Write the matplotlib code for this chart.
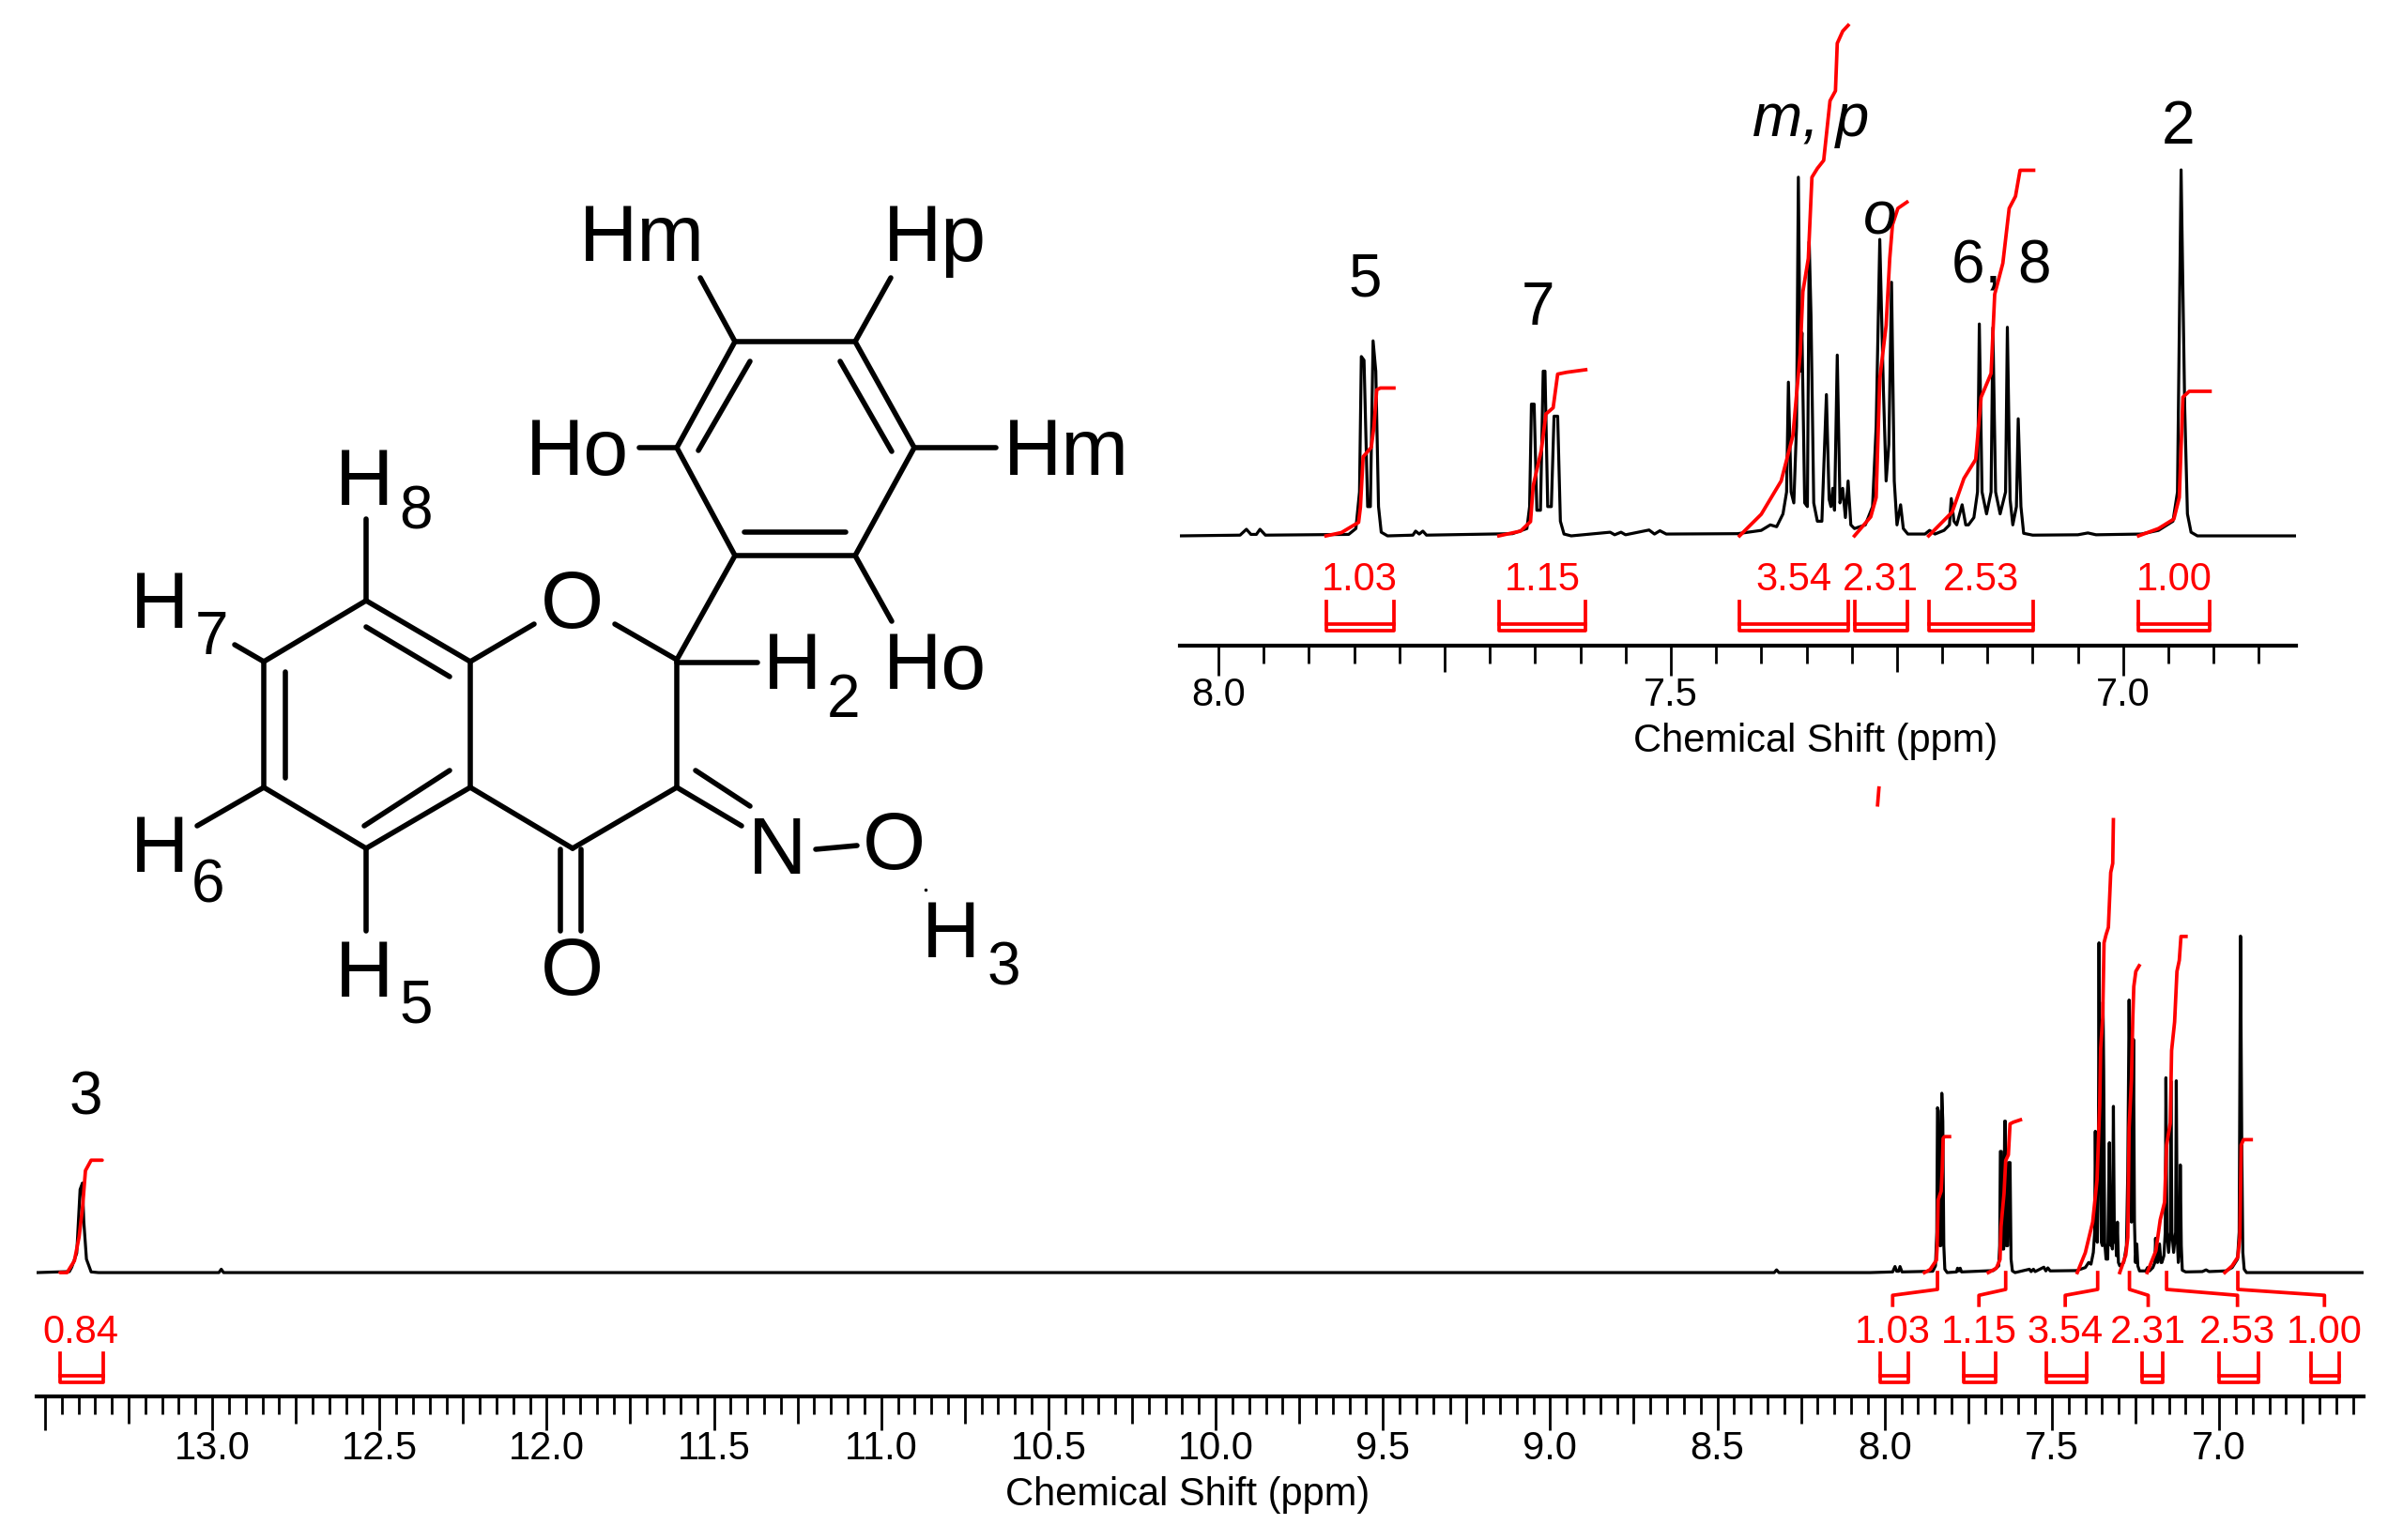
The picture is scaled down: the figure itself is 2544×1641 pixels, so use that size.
import matplotlib
matplotlib.use('Agg')
import matplotlib.pyplot as plt

plt.rcParams['font.family'] = ['Liberation Sans', 'DejaVu Sans']

# Spectrum, aromatic region (tallest peak = 100)
spec_ppm = [8.043, 7.976, 7.969, 7.964, 7.958, 7.954, 7.948,
            7.856, 7.848, 7.844, 7.842, 7.839, 7.835, 7.832, 7.829, 7.826, 7.823, 7.820, 7.813,
            7.785, 7.782, 7.778, 7.774, 7.770,
            7.675, 7.659, 7.656, 7.654, 7.651, 7.648, 7.644, 7.641, 7.639, 7.636, 7.632, 7.629, 7.625, 7.622, 7.618, 7.610,
            7.567, 7.562, 7.555, 7.550, 7.524, 7.518, 7.512, 7.505,
            7.426, 7.400, 7.390, 7.383, 7.376, 7.372, 7.370, 7.367, 7.364, 7.361, 7.359, 7.357, 7.355, 7.352, 7.349,
            7.347, 7.345, 7.342, 7.338, 7.333, 7.328, 7.325, 7.323, 7.321, 7.319, 7.316, 7.313, 7.310, 7.307, 7.304, 7.301, 7.297,
            7.285, 7.277, 7.273, 7.269, 7.265, 7.262, 7.259, 7.256, 7.253, 7.250, 7.246, 7.243, 7.238,
            7.219, 7.214, 7.208, 7.198, 7.192, 7.190, 7.187, 7.184, 7.178, 7.174, 7.171, 7.165, 7.161, 7.159, 7.156,
            7.151, 7.146, 7.144, 7.141, 7.136, 7.130, 7.128, 7.125, 7.122, 7.118, 7.116, 7.113, 7.110, 7.100,
            7.050, 7.039, 7.030, 6.980, 6.961, 6.945, 6.940, 6.936, 6.932, 6.929, 6.925, 6.918, 6.809]
spec_int = [0, 0.2, 1.8, 0.4, 0.4, 1.8, 0.2,
            0.4, 2, 12, 49, 48, 8, 8, 53.3, 45, 8, 1, 0,
            0.2, 1.3, 0.5, 1.3, 0.2,
            0.6, 2, 8, 36, 36, 7, 7, 45, 45, 8, 8, 32.7, 32.7, 4, 0.5, 0,
            1, 0.3, 1, 0.3, 1.6, 0.5, 1.4, 0.5,
            0.6, 1.5, 3, 2.5, 6, 12, 42, 12, 9, 30, 98, 45, 55.5, 9, 8,
            80.4, 60, 9, 4, 4, 38.6, 10, 8, 13, 7, 49.4, 9, 13, 5, 15, 3, 2,
            3, 8, 30, 81, 40, 15, 25, 69.3, 15, 3, 8.5, 2, 0.5,
            0.5, 1.5, 0.5, 1.5, 3, 10.2, 4, 3, 8.5, 3, 3, 5, 12, 57.9, 12,
            6, 12, 56.9, 12, 6, 12, 57, 10, 3, 8, 32, 8, 0.7, 0.2,
            0.3, 0.8, 0.3, 0.5, 1.5, 4, 12, 100, 35, 6, 1, 0, 0]

# Rest of the full spectrum
far_ppm = [13.525, 13.427, 13.420, 13.405, 13.395, 13.388, 13.384, 13.376, 13.362, 13.340,
           12.980, 12.973, 12.966, 8.330, 8.323, 8.316, 8.100]
far_int = [0, 0.3, 1.6, 5.8, 24.7, 26.6, 15.3, 4, 0.2, 0, 0, 1, 0, 0, 0.8, 0, 0]
end_ppm = [6.568]
end_int = [0]

# Integral curves
int5_ppm = [7.881, 7.864, 7.845, 7.843, 7.840, 7.831, 7.828, 7.825, 7.821, 7.806]
int5_y = [0, 0.9, 3.7, 7.8, 21.6, 24.2, 30, 39.9, 40.4, 40.4]
int7_ppm = [7.690, 7.666, 7.655, 7.652, 7.643, 7.638, 7.630, 7.625, 7.615, 7.594]
int7_y = [0, 1.3, 3.9, 13.7, 23.5, 33.3, 35, 44.2, 44.7, 45.4]
intmp_ppm = [7.424, 7.400, 7.378, 7.365, 7.357, 7.354, 7.348, 7.344, 7.338, 7.331, 7.324, 7.318, 7.316, 7.310, 7.304]
intmp_y = [0, 5.9, 15, 27.4, 49.7, 66.7, 75.8, 98, 100.4, 102.6, 118.9, 121.6, 134.6, 137.9, 139.5]
into_ppm = [7.297, 7.279, 7.273, 7.269, 7.262, 7.258, 7.255, 7.249, 7.239]
into_y = [0, 5.2, 10.5, 43, 57.5, 75.8, 85, 89.5, 91.2]
int68_ppm = [7.215, 7.189, 7.176, 7.163, 7.157, 7.146, 7.142, 7.133, 7.126, 7.119, 7.114, 7.099]
int68_y = [0, 6.5, 15.7, 20.9, 37.9, 44.4, 66, 74.5, 89.5, 92.8, 99.9, 99.9]
int2_ppm = [6.983, 6.961, 6.944, 6.938, 6.934, 6.927, 6.904]
int2_y = [0, 2, 4.6, 10.5, 37.9, 39.5, 39.5]
int3_ppm = [13.455, 13.434, 13.412, 13.398, 13.388, 13.379, 13.362, 13.329]
int3_y = [0, 0, 3.5, 10.6, 19, 30.3, 33.4, 33.4]
# the piece of the m,p integral that wraps round above the full spectrum
stray_ppm = [8.021, 8.017]
stray_y = [139, 144]

int_labels = ['1.03', '1.15', '3.54', '2.31', '2.53', '1.00']
inset_curves = [(int5_ppm, int5_y), (int7_ppm, int7_y), (intmp_ppm, intmp_y),
                (into_ppm, into_y), (int68_ppm, int68_y), (int2_ppm, int2_y)]

# Integral brackets on the full spectrum
main_left = [7.930, 7.667, 7.395, 7.168, 6.882, 6.641]
main_right = [8.014, 7.764, 7.517, 7.231, 7.000, 6.724]
main_label_ppm = [7.976, 7.718, 7.460, 7.212, 6.945, 6.685]
main_foot_ppm = [7.842, 7.638, 7.363, 7.268, 7.157, 6.944]

W, H = 2544, 1641
RED = '#ff0000'
LW_RED = 2.7
LW_SPEC = 2.3


def set_axis(ax, major, labels, minor, medium, major_len, medium_len, minor_len, pad):
    for s in ['top', 'left', 'right']:
        ax.spines[s].set_visible(False)
    ax.spines['bottom'].set_linewidth(3)
    ax.set_yticks([])
    ax.set_xticks(major)
    ax.set_xticklabels(labels, fontsize=30)
    ax.set_xticks(minor, minor=True)
    ax.tick_params(axis='x', which='major', length=major_len, width=2, pad=pad)
    ax.tick_params(axis='x', which='minor', length=minor_len, width=2)
    # quarter ppm ticks are a bit longer
    for tick, v in zip(ax.xaxis.get_minor_ticks(), minor):
        if v in medium:
            tick.tick1line.set_markersize(medium_len)
    ax.patch.set_alpha(0)


def bracket(ax, a, b, top, low, bot, lw=LW_RED):
    ax.plot([a, a, b, b], [top, bot, bot, top], color=RED, lw=lw)
    ax.plot([a, b], [low, low], color=RED, lw=lw)


fig = plt.figure(figsize=(W / 100, H / 100), dpi=100)

# full spectrum
ax = fig.add_axes([39 / W, 1 - 1488 / H, (2518 - 39) / W, (1488 - 820) / H])
ax.set_xlim(13.525, 6.568)
ax.set_ylim(-36.8, 149.5)
major = [13.5, 13.0, 12.5, 12.0, 11.5, 11.0, 10.5, 10.0, 9.5, 9.0, 8.5, 8.0, 7.5, 7.0]
major_labels = [''] + [f'{v:.1f}' for v in major[1:]]
minor = [round(6.6 + 0.05 * i, 2) for i in range(139) if round(6.6 + 0.05 * i, 2) not in major]
medium = [v for v in minor if round(v * 4) == v * 4]
set_axis(ax, major, major_labels, minor, medium, 26, 21, 13.5, 0)
ax.set_xlabel('Chemical Shift (ppm)', fontsize=30, labelpad=6.5)
ax.xaxis.label.set_x(0.4946)
ax.plot(far_ppm + spec_ppm + end_ppm, far_int + spec_int + end_int, color='k', lw=LW_SPEC, solid_joinstyle='round')
ax.plot(int3_ppm, int3_y, color=RED, lw=LW_RED, solid_capstyle='round')
ax.plot(stray_ppm, stray_y, color=RED, lw=LW_RED)
for px, py in inset_curves[:2] + inset_curves[3:]:
    ax.plot(px, py, color=RED, lw=LW_RED)
ax.plot(intmp_ppm[:13], intmp_y[:13], color=RED, lw=LW_RED)
for i, lab in enumerate(int_labels):
    lx = main_label_ppm[i]
    ft = main_foot_ppm[i]
    ax.plot([ft, ft, lx, lx], [0, -5, -6.75, -9.7], color=RED, lw=LW_RED)
    ax.text(lx, -17.8, lab, color=RED, fontsize=30, ha='center', va='center')
    bracket(ax, main_left[i], main_right[i], -23.9, -30.6, -32.7)
ax.text(13.394, -17.8, '0.84', color=RED, fontsize=30, ha='center', va='center')
bracket(ax, 13.326, 13.455, -23.9, -30.6, -32.7)

# expanded inset
axi = fig.add_axes([1256.5 / W, 1 - 688 / H, (2446 - 1256.5) / W, (688 - 20) / H])
axi.set_xlim(8.043, 6.809)
axi.set_ylim(-30, 141.3)
imajor = [8.0, 7.5, 7.0]
iminor = [round(6.85 + 0.05 * i, 2) for i in range(24) if round(6.85 + 0.05 * i, 2) not in imajor]
imedium = [7.75, 7.25, 6.75]
set_axis(axi, imajor, ['8.0', '7.5', '7.0'], iminor, imedium, 23, 20, 14, 1)
axi.set_xlabel('Chemical Shift (ppm)', fontsize=30, labelpad=6.5)
axi.xaxis.label.set_x(0.5696)
axi.plot(spec_ppm, spec_int, color='k', lw=LW_SPEC, solid_joinstyle='round')
for i, (px, py) in enumerate(inset_curves):
    axi.plot(px, py, color=RED, lw=LW_RED, clip_on=False)
    a, b = px[0], px[-1]
    axi.text((a + b) / 2, -12, int_labels[i], color=RED, fontsize=30, ha='center', va='center')
    bracket(axi, a, b, -17.9, -24.2, -25.9)

# overlay in pixel coordinates: structure and peak assignments
ov = fig.add_axes([0, 0, 1, 1])
ov.set_xlim(0, W)
ov.set_ylim(H, 0)
ov.axis('off')
bonds = [((783, 364), (911, 364)), ((911, 364), (974, 477)), ((974, 477), (911, 592)), ((911, 592), (783, 592)),
         ((783, 592), (721, 477)), ((721, 477), (783, 364)),
         ((744, 480), (799, 385)), ((895, 385), (950, 481)), ((793, 567), (901, 567)),
         ((783, 364), (746, 296)), ((911, 364), (949, 296)), ((974, 477), (1061, 477)), ((721, 477), (681, 477)),
         ((911, 592), (950, 662)), ((783, 592), (721, 703)), ((721, 706), (807, 706)),
         ((721, 703), (655, 665)), ((501, 705), (569, 665)),
         ((390, 640), (501, 705)), ((501, 705), (501, 839)), ((501, 839), (390, 904)), ((390, 904), (281, 839)),
         ((281, 839), (281, 705)), ((281, 705), (390, 640)),
         ((390, 668), (479, 721)), ((304, 716), (304, 829)), ((388, 880), (479, 821)),
         ((390, 640), (390, 553)), ((281, 705), (250, 687)), ((281, 839), (210, 880)), ((390, 904), (390, 992)),
         ((501, 839), (610, 904)), ((610, 904), (721, 839)), ((721, 839), (721, 703)),
         ((597, 905), (597, 992)), ((619, 905), (619, 992)),
         ((721, 839), (790, 880)), ((741, 821), (799, 859)), ((869, 905), (913, 901))]
for (x0, y0), (x1, y1) in bonds:
    ov.plot([x0, x1], [y0, y1], color='k', lw=4, solid_capstyle='round')
ov.plot([986], [948], marker='.', color='k', ms=3)

atoms = [('Hm', 617, 256, 62), ('Hp', 941, 256, 62), ('Hm', 1069, 484, 62), ('Ho', 560, 484, 62), ('Ho', 941, 712, 62),
         ('H', 357, 516, 62), ('8', 425, 546, 46), ('H', 139, 647, 62), ('7', 208, 680, 46),
         ('H', 139, 907, 62), ('6', 204, 944, 46), ('H', 357, 1040, 62), ('5', 425, 1073, 46),
         ('H', 813, 712, 62), ('2', 881, 747, 46), ('H', 982, 998, 62), ('3', 1052, 1032, 46),
         ('O', 576, 647, 62), ('O', 576, 1038, 62), ('N', 797, 909, 62), ('O', 919, 904, 62)]
for s, x, y, size in atoms:
    ov.text(x, y, s, fontsize=size, ha='left', va='center', color='k')

peaks = [('5', 1454, 299, 'normal'), ('7', 1638, 329, 'normal'), ('m, p', 1929, 128, 'italic'), ('o', 2003, 232, 'italic'),
         ('6, 8', 2132, 285, 'normal'), ('2', 2321, 136, 'normal'), ('3', 91, 1170, 'normal')]
for s, x, y, style in peaks:
    ov.text(x, y, s, fontsize=46, style=style, ha='center', va='center', color='k')

plt.savefig('out.png', dpi=100)
